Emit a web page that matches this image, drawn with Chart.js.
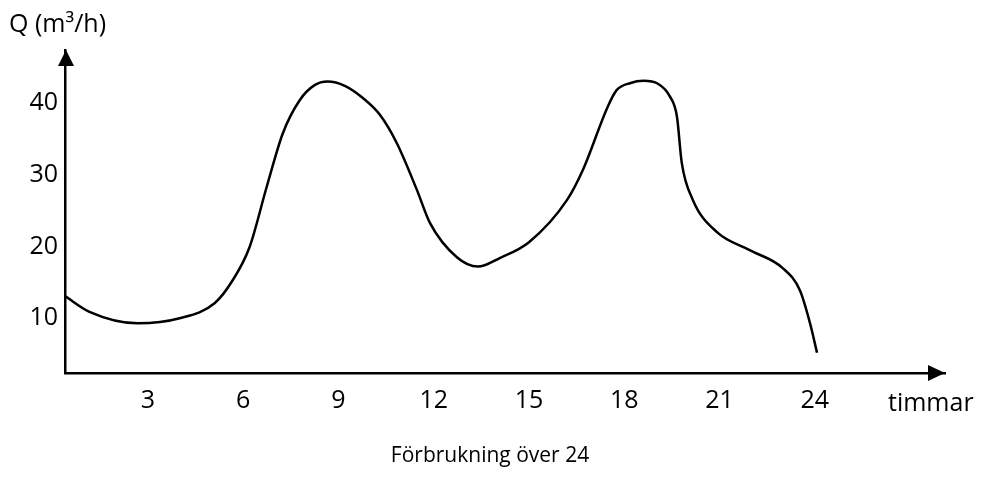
<!DOCTYPE html>
<html>
<head>
<meta charset="utf-8">
<script src="https://cdn.jsdelivr.net/npm/chart.js@4.4.0/dist/chart.umd.min.js"></script>
<style>
  html, body { margin: 0; padding: 0; background: #fff; }
  #wrap { width: 984px; height: 477px; }
</style>
</head>
<body>
<div id="wrap"><canvas id="flowChart"></canvas></div>
<script>
// hours of the day and flow Q (m³/h)
const hours = [0.39, 1.16, 2.68, 4.0, 5.1, 5.67, 6.2, 6.74, 7.25, 7.78, 8.25, 8.66, 9.2, 9.77, 10.3,
               10.84, 11.47, 11.88, 12.73, 13.39, 14.08, 15.0, 16.2, 16.7, 17.48, 17.76, 18.2, 18.6,
               19.06, 19.44, 19.66, 19.81, 20.16, 20.92, 21.95, 22.99, 23.53, 23.85, 24.07];
const flow = [13.1, 10.9, 9.3, 10.0, 12.1, 15.3, 19.9, 28.3, 35.8, 40.4, 42.5, 43.0, 42.4, 40.7, 38.4,
              34.4, 27.9, 23.3, 18.5, 17.2, 18.4, 20.6, 26.5, 30.7, 39.5, 41.8, 42.8, 43.1,
              42.7, 40.9, 38.1, 31.7, 26.5, 22.0, 19.5, 17.0, 13.9, 9.3, 5.2];
const xTicks = [3, 6, 9, 12, 15, 18, 21, 24];
const yTicks = [10, 20, 30, 40];

const yAxisLabel = 'Q (m³/h)';
const xAxisLabel = 'timmar';
const chartTitle = 'Förbrukning över 24';

const FONT = '"Open Sans", Lato, sans-serif';

// arrows on the axes plus the free-standing labels
const axisDecor = {
    id: 'axisDecor',
    afterDraw(chart) {
        const { ctx, chartArea: a } = chart;
        ctx.save();
        ctx.fillStyle = '#000';
        // y arrow
        ctx.beginPath();
        ctx.moveTo(a.left + 1, a.top);
        ctx.lineTo(a.left - 7, a.top + 16);
        ctx.lineTo(a.left + 9, a.top + 16);
        ctx.closePath();
        ctx.fill();
        // x arrow
        ctx.beginPath();
        ctx.moveTo(a.right, a.bottom);
        ctx.lineTo(a.right - 17, a.bottom - 8);
        ctx.lineTo(a.right - 17, a.bottom + 8);
        ctx.closePath();
        ctx.fill();

        ctx.textBaseline = 'middle';
        ctx.textAlign = 'left';
        ctx.font = '25px ' + FONT;
        ctx.fillText(yAxisLabel, 9, 25);
        ctx.fillText(xAxisLabel, 888, 404);
        ctx.font = '21px ' + FONT;
        ctx.textAlign = 'center';
        ctx.fillText(chartTitle, 490, 456);
        ctx.restore();
    }
};

const ctx = document.getElementById('flowChart').getContext('2d');
new Chart(ctx, {
    type: 'line',
    data: {
        datasets: [{
            data: hours.map((h, i) => ({ x: h, y: flow[i] })),
            borderColor: '#000',
            borderWidth: 2.5,
            pointRadius: 0,
            fill: false,
            cubicInterpolationMode: 'monotone'
        }]
    },
    options: {
        responsive: true,
        maintainAspectRatio: false,
        animation: false,
        layout: { padding: { top: 50, right: 39, left: 0, bottom: 0 } },
        plugins: {
            legend: { display: false },
            tooltip: { enabled: false }
        },
        scales: {
            x: {
                type: 'linear',
                min: 0.39,
                max: 28.1,
                afterFit(scale) { scale.height = 104; },
                afterBuildTicks(scale) { scale.ticks = xTicks.map(v => ({ value: v })); },
                grid: { display: true, color: 'rgba(0,0,0,0)', drawTicks: false },
                border: { display: true, color: '#000', width: 2.5 },
                ticks: { color: '#000', font: { family: FONT, size: 25 }, padding: 13 }
            },
            y: {
                type: 'linear',
                min: 2.37,
                max: 47.4,
                afterFit(scale) { scale.width = 65; },
                afterBuildTicks(scale) { scale.ticks = yTicks.map(v => ({ value: v })); },
                grid: { display: true, color: 'rgba(0,0,0,0)', drawTicks: false },
                border: { display: true, color: '#000', width: 2.5 },
                ticks: { color: '#000', font: { family: FONT, size: 25 }, padding: 7 }
            }
        }
    },
    plugins: [axisDecor]
});
</script>
</body>
</html>
